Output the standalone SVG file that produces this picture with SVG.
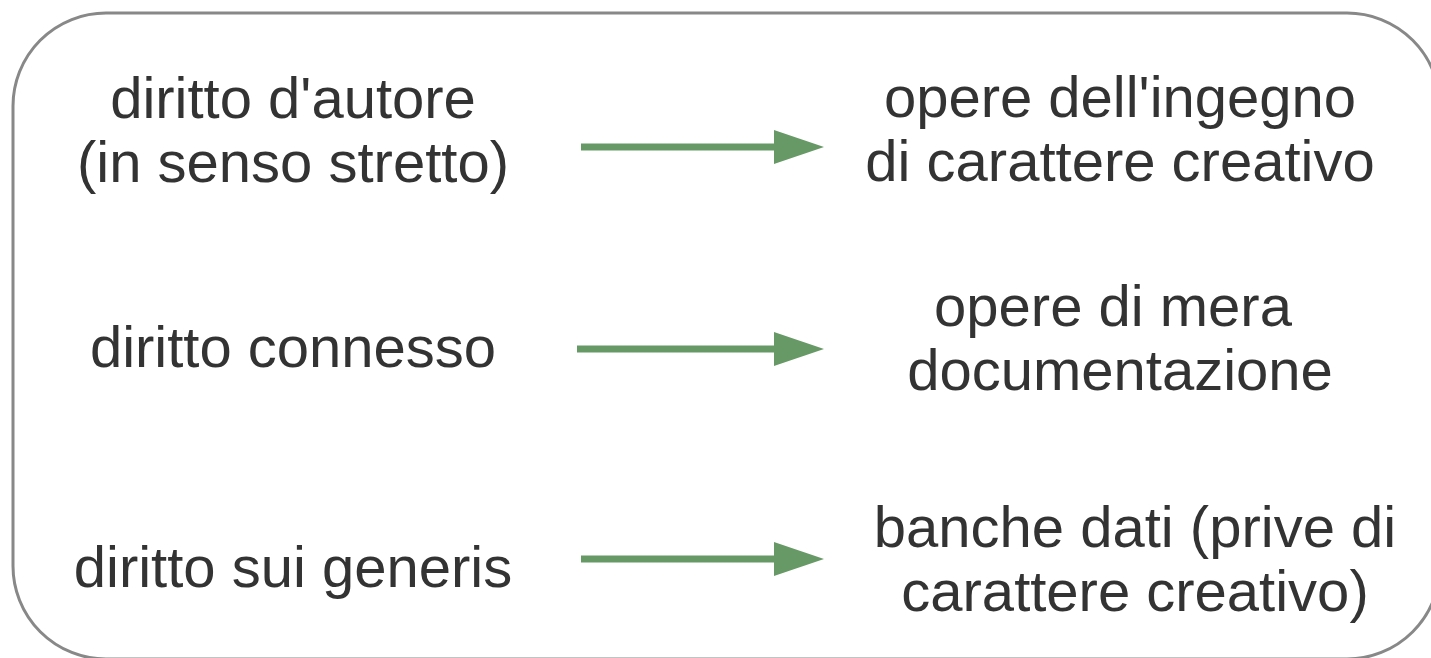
<svg xmlns="http://www.w3.org/2000/svg" width="1431" height="658" viewBox="0 0 1431 658">
  <defs>
    <style>
      .lbl { font-family: "Liberation Sans", Arial, sans-serif; font-size: 58px; fill: #333333; text-anchor: middle; }
      .conn { stroke: #679966; stroke-width: 7; fill: none; }
      .head { fill: #679966; }
    </style>
  </defs>
  <rect x="0" y="0" width="1431" height="658" fill="#ffffff"/>
  <rect id="frame" x="13" y="13" width="1427" height="646" rx="93" ry="93" fill="#ffffff" stroke="#888888" stroke-width="3"/>

  <g id="node-autore">
    <text class="lbl" x="293" y="118">diritto d'autore</text>
    <text class="lbl" x="293" y="182">(in senso stretto)</text>
  </g>
  <g id="node-connesso">
    <text class="lbl" x="293" y="367">diritto connesso</text>
  </g>
  <g id="node-sui-generis">
    <text class="lbl" x="293" y="587">diritto sui generis</text>
  </g>
  <g id="node-opere-ingegno">
    <text class="lbl" x="1120" y="117">opere dell'ingegno</text>
    <text class="lbl" x="1120" y="181">di carattere creativo</text>
  </g>
  <g id="node-opere-documentazione">
    <text class="lbl" x="1113" y="326">opere di mera</text>
    <text class="lbl" x="1120" y="390">documentazione</text>
  </g>
  <g id="node-banche-dati">
    <text class="lbl" x="1135" y="547">banche dati (prive di</text>
    <text class="lbl" x="1135" y="611">carattere creativo)</text>
  </g>

  <g id="connectors">
    <line class="conn" x1="581" y1="147" x2="777" y2="147"/>
    <polygon class="head" points="774,130 824,147 774,164"/>
    <line class="conn" x1="577" y1="349" x2="777" y2="349"/>
    <polygon class="head" points="774,332 824,349 774,366"/>
    <line class="conn" x1="581" y1="559" x2="777" y2="559"/>
    <polygon class="head" points="774,542 824,559 774,576"/>
  </g>
</svg>
